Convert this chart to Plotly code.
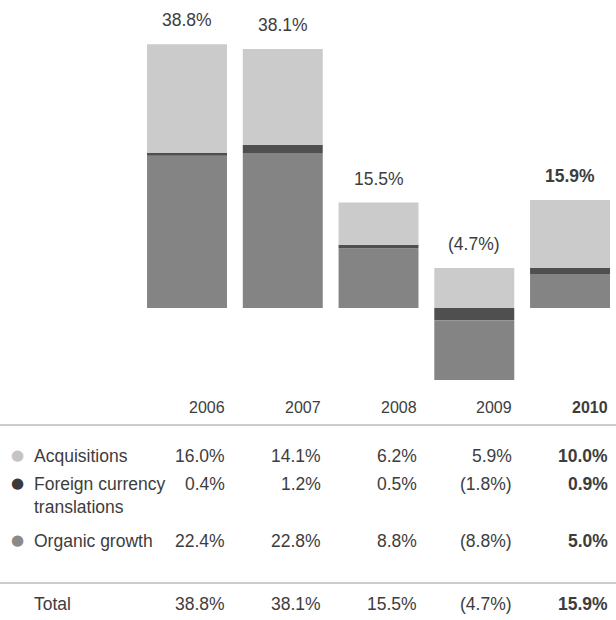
import plotly.graph_objects as go

years = ["2006", "2007", "2008", "2009", "2010"]
acquisitions = [16.0, 14.1, 6.2, 5.9, 10.0]
foreign = [0.4, 1.2, 0.5, -1.8, 0.9]
organic = [22.4, 22.8, 8.8, -8.8, 5.0]
totals = [38.8, 38.1, 15.5, -4.7, 15.9]

row_labels = ["Acquisitions", "Foreign currency<br>translations", "Organic growth"]
row_colors = ["#c4c4c4", "#3a3a3a", "#8a8a8a"]

C_ACQ = "#cbcbcb"
C_FX = "#4f4f4f"
C_ORG = "#848484"
FONT = "Liberation Sans Narrow, Liberation Sans, Arial, sans-serif"
TXT = "#3d3d3d"
FS = 17.5
W, H = 616, 620

xs = list(range(len(years)))


def fmt(v):
    return f"({abs(v):.1f}%)" if v < 0 else f"{v:.1f}%"


def pos(vals):
    return [v if v >= 0 else None for v in vals]


def neg(vals):
    return [v if v < 0 else None for v in vals]


def py(px):
    return 1 - px / H


def bold(t, yr):
    return f"<b>{t}</b>" if yr == "2010" else t


fig = go.Figure()
# order chosen so that positives stack organic->fx->acq and negatives fx->organic
fig.add_bar(x=xs, y=neg(foreign), marker_color=C_FX)
fig.add_bar(x=xs, y=pos(organic), marker_color=C_ORG)
fig.add_bar(x=xs, y=neg(organic), marker_color=C_ORG)
fig.add_bar(x=xs, y=pos(foreign), marker_color=C_FX)
fig.add_bar(x=xs, y=pos(acquisitions), marker_color=C_ACQ)
fig.add_bar(x=xs, y=neg(acquisitions), marker_color=C_ACQ)
fig.update_traces(marker_line_width=0, showlegend=False, hoverinfo="skip")

ann = []
# totals above bars
for i, yr in enumerate(years):
    top = sum(v for v in (acquisitions[i], foreign[i], organic[i]) if v > 0)
    ann.append(dict(x=xs[i], y=top, xref="x", yref="y", text=bold(fmt(totals[i]), yr),
                    showarrow=False, xanchor="center", yanchor="bottom", yshift=12,
                    font=dict(size=FS, color=TXT, family=FONT)))

half = 40
# table header
for i, yr in enumerate(years):
    ann.append(dict(x=xs[i], y=py(407), xref="x", yref="paper", text=bold(yr, yr),
                    showarrow=False, xanchor="right", yanchor="middle", xshift=half,
                    font=dict(size=16, color=TXT, family=FONT)))

rows = [acquisitions, foreign, organic]
row_y = [456, 484, 541]
for lab, col, vals, ypx in zip(row_labels, row_colors, rows, row_y):
    ann.append(dict(x=17 / W, y=py(ypx), xref="paper", yref="paper", text="●", showarrow=False,
                    xanchor="center", yanchor="middle", yshift=1,
                    font=dict(size=15, color=col, family="DejaVu Sans")))
    if "<br>" in lab:
        ann.append(dict(x=32 / W, y=py(ypx - 12), xref="paper", yref="paper", text=lab,
                        showarrow=False, xanchor="left", yanchor="top", align="left",
                        font=dict(size=FS, color=TXT, family=FONT)))
    else:
        ann.append(dict(x=32 / W, y=py(ypx), xref="paper", yref="paper", text=lab,
                        showarrow=False, xanchor="left", yanchor="middle",
                        font=dict(size=FS, color=TXT, family=FONT)))
    for i, yr in enumerate(years):
        ann.append(dict(x=xs[i], y=py(ypx), xref="x", yref="paper", text=bold(fmt(vals[i]), yr),
                        showarrow=False, xanchor="right", yanchor="middle", xshift=half,
                        font=dict(size=FS, color=TXT, family=FONT)))

# total row
ann.append(dict(x=32 / W, y=py(604), xref="paper", yref="paper", text="Total", showarrow=False,
                xanchor="left", yanchor="middle", font=dict(size=FS, color=TXT, family=FONT)))
for i, yr in enumerate(years):
    ann.append(dict(x=xs[i], y=py(604), xref="x", yref="paper", text=bold(fmt(totals[i]), yr),
                    showarrow=False, xanchor="right", yanchor="middle", xshift=half,
                    font=dict(size=FS, color=TXT, family=FONT)))

shapes = [
    dict(type="line", xref="paper", yref="paper", x0=0, x1=1, y0=py(425), y1=py(425),
         line=dict(color="#9a9a9a", width=1)),
    dict(type="line", xref="paper", yref="paper", x0=0, x1=1, y0=py(583), y1=py(583),
         line=dict(color="#9a9a9a", width=1)),
]

hidden = dict(showticklabels=False, showgrid=False, zeroline=False, showline=False, ticks="")
fig.update_layout(
    width=W, height=H, margin=dict(l=0, r=0, t=0, b=0),
    barmode="relative", bargap=0.165,
    paper_bgcolor="white", plot_bgcolor="white",
    xaxis=dict(range=[-1.953, 4.48], **hidden),
    yaxis=dict(range=[-11.32, 45.29], domain=[py(385), 1], **hidden),
    annotations=ann, shapes=shapes,
    font=dict(family=FONT, color=TXT),
)
fig.write_html(
    "out.html",
    config={"displayModeBar": False},
    post_script="document.body.style.margin='0';document.body.style.padding='0';document.body.style.overflow='hidden';",
)
